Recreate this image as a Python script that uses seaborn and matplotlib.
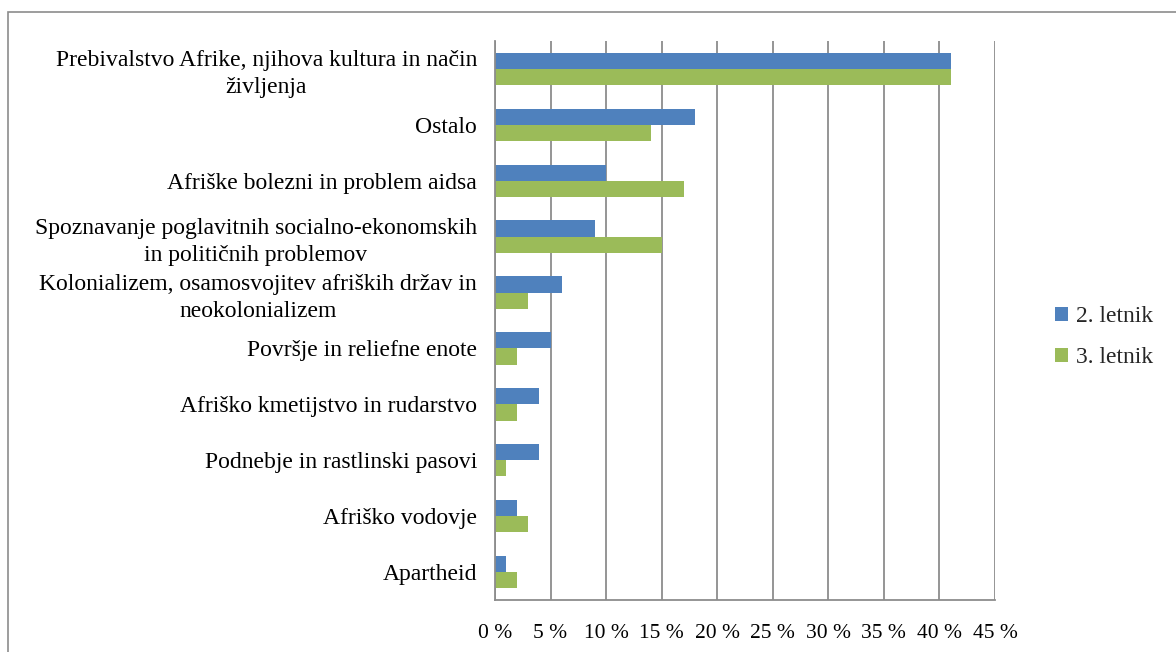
import numpy as np
import pandas as pd
import matplotlib
matplotlib.use("Agg")
import matplotlib.pyplot as plt
import seaborn as sns
from matplotlib.patches import Rectangle
from matplotlib.ticker import FixedLocator

categories = [
    "Prebivalstvo Afrike, njihova kultura in način\nživljenja",
    "Ostalo",
    "Afriške bolezni in problem aidsa",
    "Spoznavanje poglavitnih socialno-ekonomskih\nin političnih problemov",
    "Kolonializem, osamosvojitev afriških držav in\nneokolonializem",
    "Površje in reliefne enote",
    "Afriško kmetijstvo in rudarstvo",
    "Podnebje in rastlinski pasovi",
    "Afriško vodovje",
    "Apartheid",
]
letnik_2 = [41, 18, 10, 9, 6, 5, 4, 4, 2, 1]
letnik_3 = [41, 14, 17, 15, 3, 2, 2, 1, 3, 2]
series_names = ["2. letnik", "3. letnik"]
x_ticks = [0, 5, 10, 15, 20, 25, 30, 35, 40, 45]

df = pd.DataFrame({
    "kategorija": categories * 2,
    "delez": letnik_2 + letnik_3,
    "serija": [series_names[0]] * len(categories) + [series_names[1]] * len(categories),
})

sns.set_theme(style="white")
plt.rcParams["font.family"] = ["Liberation Serif", "DejaVu Serif"]

fig = plt.figure(figsize=(11.76, 6.52), dpi=100)
ax = fig.add_axes([495 / 1176, 1 - 600 / 652, 500 / 1176, (600 - 41) / 652])

# outer frame like the Excel chart border
fig.patches.append(Rectangle((8 / 1176, -0.01), 1.0, 1 - 12 / 652 + 0.01,
                             transform=fig.transFigure, fill=False,
                             edgecolor="#8c8c8c", linewidth=1.2))

sns.barplot(data=df, y="kategorija", x="delez", hue="serija", orient="h",
            palette=["#4F81BD", "#9BBB59"], width=0.58, saturation=1,
            edgecolor="none", ax=ax)

ax.set_xlim(0, 45)
ax.set_ylim(len(categories) - 0.5, -0.5)
ax.set_xticks(x_ticks)
ax.set_xticklabels([f"{t} %" for t in x_ticks], fontsize=15.5, color="black")
ax.xaxis.grid(True, color="#8c8c8c", linewidth=1.3)
ax.yaxis.grid(False)
ax.set_axisbelow(True)
ax.set_xlabel("")
ax.set_ylabel("")

for lbl in ax.get_yticklabels():
    lbl.set_multialignment("center")
    lbl.set_fontsize(17)
    lbl.set_color("black")
    lbl.set_linespacing(1.35)
ax.tick_params(axis="y", which="major", length=0, pad=13)
ax.yaxis.set_minor_locator(FixedLocator(np.arange(-0.5, len(categories), 1.0)))
ax.tick_params(axis="y", which="minor", length=6, width=1.3, color="#8c8c8c", direction="out")
ax.tick_params(axis="x", which="major", length=6, width=1.3, color="#8c8c8c", direction="out", pad=11)

for side in ["top", "right"]:
    ax.spines[side].set_visible(False)
for side in ["left", "bottom"]:
    ax.spines[side].set_color("#8c8c8c")
    ax.spines[side].set_linewidth(1.3)

ax.legend(loc="center left", bbox_to_anchor=(1.12, 0.47), frameon=False,
          fontsize=17, handlelength=0.55, handleheight=0.55, handletextpad=0.35,
          labelspacing=0.85, borderaxespad=0, borderpad=0)

fig.savefig("out.png", dpi=100)
